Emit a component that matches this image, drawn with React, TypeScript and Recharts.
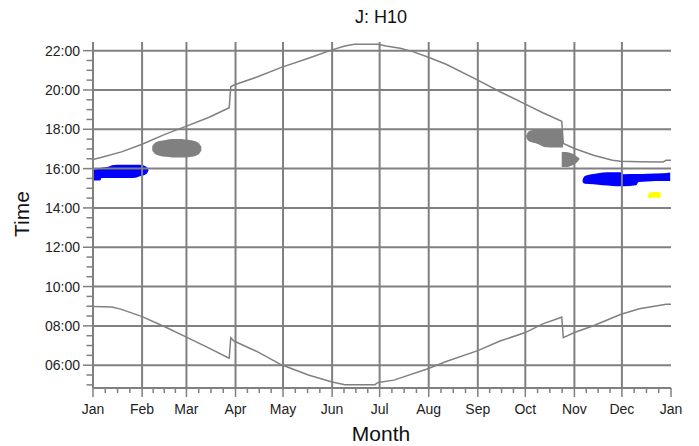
import { ComposedChart, Area, Line, XAxis, YAxis, ReferenceLine } from "recharts";

const monthLabels = ["Jan", "Feb", "Mar", "Apr", "May", "Jun", "Jul", "Aug", "Sep", "Oct", "Nov", "Dec", "Jan"];
const monthStarts = [0, 31, 59, 90, 120, 151, 181, 212, 243, 273, 304, 334, 365];
const hourTicks = [6, 8, 10, 12, 14, 16, 18, 20, 22];

// sunset (upper line), hours of day
const sunsetDays = [0, 5, 18, 31, 45, 59, 73, 85, 86, 87, 89, 104, 119, 136, 151, 159, 165, 180, 185, 194, 202, 211, 223, 243, 257, 273, 284, 296, 297, 304, 316, 328, 333, 345, 360, 362, 365];
const sunsetTimes = [16.46, 16.56, 16.85, 17.24, 17.73, 18.16, 18.6, 19.06, 19.1, 20.16, 20.25, 20.67, 21.15, 21.61, 22.04, 22.24, 22.33, 22.33, 22.24, 22.12, 21.95, 21.69, 21.31, 20.5, 19.91, 19.28, 18.84, 18.41, 17.28, 17.02, 16.68, 16.42, 16.37, 16.35, 16.34, 16.42, 16.42];

// sunrise (lower line)
const sunriseDays = [0, 12, 18, 31, 45, 59, 73, 85, 86, 87, 89, 104, 119, 136, 151, 159, 178, 180, 190, 211, 223, 243, 257, 273, 284, 295, 296, 297, 304, 316, 333, 345, 362, 365];
const sunriseTimes = [8.99, 8.96, 8.84, 8.47, 7.97, 7.43, 6.88, 6.39, 6.36, 7.4, 7.23, 6.68, 6.02, 5.5, 5.15, 5.01, 5.01, 5.12, 5.24, 5.81, 6.19, 6.74, 7.23, 7.66, 8.1, 8.41, 8.45, 7.4, 7.66, 8.01, 8.58, 8.87, 9.1, 9.1];

// shadow periods
const janBlueDays = [0, 4.5, 5.5, 9.7, 12, 15, 25.4, 29.7, 33.9, 35];
const janBlueLow = [15.4, 15.4, 15.52, 15.52, 15.52, 15.52, 15.52, 15.61, 15.74, 15.9];
const janBlueHigh = [15.95, 16.0, 16.05, 16.1, 16.17, 16.2, 16.2, 16.2, 16.08, 15.96];

const febGrayDays = [37.4, 39, 42, 46, 50, 54, 58, 62, 65, 67, 68.4];
const febGrayLow = [16.92, 16.76, 16.66, 16.6, 16.57, 16.56, 16.57, 16.6, 16.66, 16.76, 16.92];
const febGrayHigh = [17.14, 17.3, 17.4, 17.46, 17.5, 17.5, 17.48, 17.44, 17.38, 17.28, 17.12];

const octGrayDays = [273.6, 274.5, 276, 280, 286.4, 292, 296.8];
const octGrayLow = [17.6, 17.45, 17.36, 17.28, 17.08, 17.07, 17.07];
const octGrayHigh = [17.68, 17.84, 17.93, 17.99, 17.99, 17.99, 17.96];

const novGrayDays = [296, 299, 302, 304.5, 306.5, 307.2];
const novGrayLow = [16.08, 16.08, 16.15, 16.25, 16.4, 16.47];
const novGrayHigh = [16.85, 16.84, 16.78, 16.68, 16.56, 16.52];

const decBlueDays = [309.2, 310.6, 316, 322, 328, 333, 335, 343, 344.5, 350, 360, 364.5];
const decBlueLow = [15.3, 15.23, 15.2, 15.15, 15.12, 15.1, 15.1, 15.15, 15.32, 15.35, 15.37, 15.37];
const decBlueHigh = [15.45, 15.62, 15.72, 15.8, 15.82, 15.82, 15.71, 15.72, 15.72, 15.74, 15.76, 15.8];

const decYellowDays = [350.2, 352, 358.4];
const decYellowLow = [14.52, 14.52, 14.52];
const decYellowHigh = [14.6, 14.8, 14.81];

const GRAY = "#808080";
const FONT = "'Liberation Sans', Arial, sans-serif";

type Row = { day: number; [key: string]: any };
const rows: Row[] = [];
function addLine(key: string, days: number[], vals: number[]) {
  days.forEach((d, i) => rows.push({ day: d, [key]: vals[i] }));
}
function addRange(key: string, days: number[], lo: number[], hi: number[]) {
  days.forEach((d, i) => rows.push({ day: d, [key]: [lo[i], hi[i]] }));
}
addLine("sunset", sunsetDays, sunsetTimes);
addLine("sunrise", sunriseDays, sunriseTimes);
addRange("janBlue", janBlueDays, janBlueLow, janBlueHigh);
addRange("febGray", febGrayDays, febGrayLow, febGrayHigh);
addRange("octGray", octGrayDays, octGrayLow, octGrayHigh);
addRange("novGray", novGrayDays, novGrayLow, novGrayHigh);
addRange("decBlue", decBlueDays, decBlueLow, decBlueHigh);
addRange("decYellow", decYellowDays, decYellowLow, decYellowHigh);
rows.sort((a, b) => a.day - b.day);

// axis ticks: months split in quarters, half-hours on the time axis
const xTicks: number[] = [];
for (let m = 0; m < 12; m++) {
  const len = monthStarts[m + 1] - monthStarts[m];
  for (let q = 0; q < 4; q++) xTicks.push(monthStarts[m] + (len * q) / 4);
}
xTicks.push(365);
const yTicks: number[] = [];
for (let h = 5; h <= 22; h += 0.5) yTicks.push(h);

function MonthTick(props: any) {
  const { x, y, payload } = props;
  const i = monthStarts.indexOf(payload.value);
  const major = i >= 0;
  return (
    <g>
      <line x1={x} x2={x} y1={y} y2={y + (major ? 9 : 5)} stroke={GRAY} strokeWidth={1.5} />
      {major && (
        <text x={x} y={y + 26} textAnchor="middle" fontSize={14} fontFamily={FONT} fill="#222">
          {monthLabels[i]}
        </text>
      )}
    </g>
  );
}

function TimeTick(props: any) {
  const { x, y, payload } = props;
  const major = hourTicks.includes(payload.value);
  return (
    <g>
      <line x1={x - (major ? 10 : 6.5)} x2={x} y1={y} y2={y} stroke={GRAY} strokeWidth={1.5} />
      {major && (
        <text x={x - 13} y={y + 5} textAnchor="end" fontSize={14} fontFamily={FONT} fill="#222">
          {String(payload.value).padStart(2, "0") + ":00"}
        </text>
      )}
    </g>
  );
}

const blobs = [
  { key: "janBlue", color: "#0000ff" },
  { key: "febGray", color: GRAY },
  { key: "octGray", color: GRAY },
  { key: "novGray", color: GRAY },
  { key: "decBlue", color: "#0000ff" },
  { key: "decYellow", color: "#ffff00" },
];

export default function App() {
  return (
    <div style={{ position: "absolute", left: 0, top: 0, width: 699, height: 446, background: "#fff" }}>
      <ComposedChart width={699} height={446} data={rows} margin={{ top: 42, right: 28, bottom: 0, left: 0 }}>
        <XAxis
          dataKey="day"
          type="number"
          domain={[0, 365]}
          allowDataOverflow
          ticks={xTicks}
          interval={0}
          tick={<MonthTick />}
          tickLine={false}
          tickSize={0}
          tickMargin={0}
          height={58}
          axisLine={{ stroke: GRAY, strokeWidth: 2 }}
        />
        <YAxis
          type="number"
          domain={[4.84, 22.44]}
          allowDataOverflow
          ticks={yTicks}
          interval={0}
          tick={<TimeTick />}
          tickLine={false}
          tickSize={0}
          tickMargin={0}
          width={93}
          axisLine={{ stroke: GRAY, strokeWidth: 2 }}
        />
        {blobs.map((b) => (
          <Area
            key={b.key}
            dataKey={b.key}
            type="monotone"
            stroke="none"
            fill={b.color}
            fillOpacity={1}
            connectNulls
            dot={false}
            activeDot={false}
            isAnimationActive={false}
          />
        ))}
        {monthStarts.slice(1, 12).map((d) => (
          <ReferenceLine key={"v" + d} x={d} stroke={GRAY} strokeWidth={2} />
        ))}
        {hourTicks.map((h) => (
          <ReferenceLine key={"h" + h} y={h} stroke={GRAY} strokeWidth={2} />
        ))}
        <Line dataKey="sunset" type="linear" stroke={GRAY} strokeWidth={1.5} dot={false} activeDot={false} connectNulls isAnimationActive={false} />
        <Line dataKey="sunrise" type="linear" stroke={GRAY} strokeWidth={1.5} dot={false} activeDot={false} connectNulls isAnimationActive={false} />
      </ComposedChart>
      <svg width={699} height={446} style={{ position: "absolute", left: 0, top: 0, pointerEvents: "none" }}>
        <text x={381} y={23} textAnchor="middle" fontSize={18} fontFamily={FONT} fill="#111">
          J: H10
        </text>
        <text x={381} y={441} textAnchor="middle" fontSize={21} fontFamily={FONT} fill="#111">
          Month
        </text>
        <text x={28.5} y={214} textAnchor="middle" fontSize={21} fontFamily={FONT} fill="#111" transform="rotate(-90, 28.5, 214)">
          Time
        </text>
      </svg>
    </div>
  );
}
